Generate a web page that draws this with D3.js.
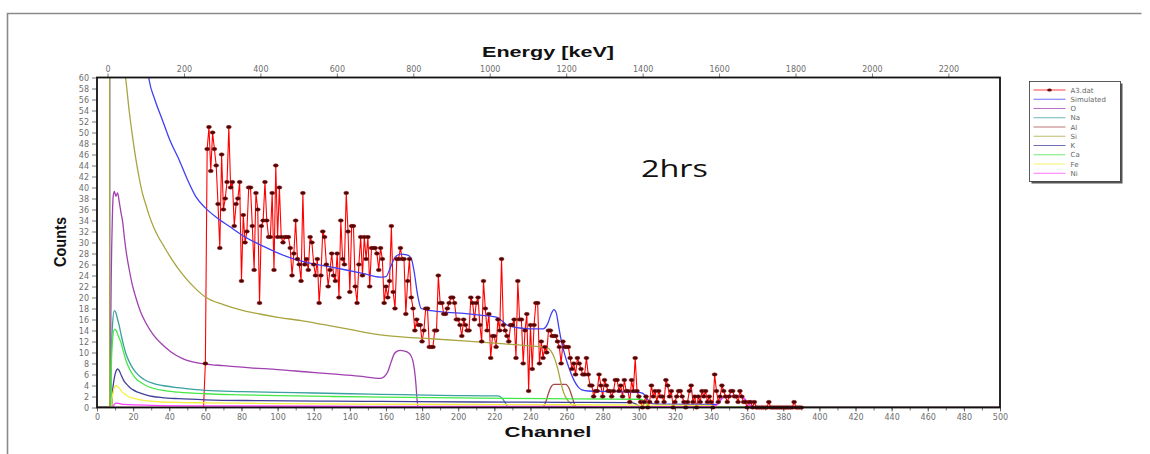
<!DOCTYPE html>
<html>
<head>
<meta charset="utf-8">
<script src="https://cdn.jsdelivr.net/npm/d3@7/dist/d3.min.js"></script>
<style>
  body { margin: 0; background: #fff; }
  svg { display: block; }
</style>
</head>
<body>
<svg id="chart" width="1150" height="454"></svg>
<script>
// ---- measured spectrum A3.dat: counts per channel, first entry is channel 59 ----
const a3StartChannel = 59;
const a3Counts = [
  0,
  8, 47, 51, 43, 50, 47, 44, 37, 29, 46,   // 60-69
  36, 38, 41, 51, 40, 41, 33, 37, 38, 41,  // 70-79
  23, 35, 30, 32, 40, 40, 33, 25, 39, 36,  // 80-89
  19, 33, 34, 41, 34, 31, 31, 39, 25, 44,  // 90-99
  31, 40, 31, 30, 31, 31, 31, 29, 24, 28,  // 100-109
  34, 27, 26, 23, 39, 26, 27, 25, 31, 30,  // 110-119
  26, 24, 27, 19, 24, 32, 31, 26, 22, 25,  // 120-129
  28, 24, 23, 28, 20, 34, 27, 26, 39, 32,  // 130-139
  21, 33, 33, 22, 19, 26, 31, 24, 31, 27,  // 140-149
  31, 22, 29, 29, 29, 28, 25, 29, 27, 19,  // 150-159
  22, 20, 23, 33, 21, 18, 27, 27, 29, 27,  // 160-169
  27, 17, 23, 27, 20, 18, 14, 16, 15, 15,  // 170-179
  12, 14, 18, 18, 11, 11, 11, 14, 14, 24,  // 180-189
  19, 19, 17, 17, 18, 19, 20, 20, 19, 16,  // 190-199
  16, 15, 13, 16, 15, 14, 14, 20, 19, 16,  // 200-209
  19, 20, 15, 12, 23, 18, 14, 17, 9, 13,   // 210-219
  13, 11, 16, 14, 27, 15, 14, 13, 12, 15,  // 220-229
  15, 16, 9, 23, 16, 16, 8, 14, 17, 3,     // 230-239
  15, 7, 15, 19, 19, 8, 12, 9, 11, 10,     // 240-249
  14, 14, 13, 13, 13, 12, 11, 8, 12, 11,   // 250-259
  11, 11, 9, 7, 8, 6, 9, 8, 7, 6,          // 260-269
  6, 9, 6, 4, 4, 2, 3, 3, 6, 4,            // 270-279
  2, 5, 4, 3, 3, 2, 3, 5, 5, 3,            // 280-289
  4, 2, 5, 3, 3, 1, 5, 3, 9, 3,            // 290-299
  2, 1, 0, 1, 2, 0, 1, 4, 2, 3,            // 300-309
  1, 3, 2, 2, 1, 5, 4, 2, 3, 0,            // 310-319
  1, 2, 3, 3, 2, 1, 0, 1, 3, 4,            // 320-329
  1, 2, 0, 2, 1, 3, 2, 3, 1, 2,            // 330-339
  1, 0, 6, 3, 1, 2, 4, 3, 2, 1,            // 340-349
  2, 3, 3, 2, 2, 1, 3, 2, 1, 1,            // 350-359
  0, 1, 1, 0, 1, 0, 0, 0, 0, 0,            // 360-369
  0, 0, 1, 0, 0, 0, 0, 0, 0, 0,            // 370-379
  0, 0, 0, 0, 0, 0, 1, 0, 0, 0,            // 380-389
  0
];

// ---- simulated total and element contributions: [channel, counts] ----
const simulated = [
  [0, 0], [7.0, 0], [7.01, 66], [28.0, 61.5], [28.9, 59.5], [32, 56], [36.3, 52.2], [40.5, 48.5],
  [45.5, 45.0], [50, 41.5], [54.8, 38.3], [60, 36.3], [66, 34.6], [73, 33.0], [82, 31.0],
  [91.6, 29.4], [100, 28.1], [110, 26.9], [120, 26.1], [128.5, 25.6], [138, 25.0], [147, 24.4],
  [157, 23.7], [160, 23.8], [162.5, 25.5], [165, 27.3], [168, 27.9], [172, 27.7], [174, 27.1],
  [175.7, 24.5], [177.5, 20.5], [179.5, 18.0], [185, 17.6], [194, 17.3], [203, 17.1], [212, 16.8],
  [221.6, 16.4], [224, 15.8], [227, 15.0], [233, 14.5], [240, 14.3], [247, 14.3], [249.5, 15.2],
  [251.5, 17.0], [253, 17.8], [254.3, 17.2], [255.5, 15.0], [257, 12.3], [259, 9.6], [260.5, 8.0],
  [262.5, 6.2], [264.5, 4.7], [266.5, 3.7], [268.5, 3.2], [272, 3.0], [284, 2.9], [295, 2.8],
  [301, 2.7], [303.5, 2.2], [305.5, 1.2], [307.5, 0.7], [312, 0.6], [343, 0.55], [344.5, 0.9],
  [346, 1.7], [348.5, 2.0], [352.5, 2.1], [356, 2.1], [358.5, 1.6], [360.5, 0.8], [362, 0.3],
  [366, 0.1], [500, 0]
];
const oxygen = [
  [0, 0], [7.6, 0], [7.61, 14], [8.4, 33], [9.0, 38.5], [9.6, 39.3], [10.5, 38.4], [11.4, 39.0],
  [12.4, 37.2], [13.3, 35.4], [14.2, 33.8], [15.2, 30.8], [16.4, 27.8], [17.9, 25.0], [19.5, 22.4],
  [21.5, 20.0], [24, 17.5], [27, 15.4], [31, 13.3], [36.3, 11.4], [41, 10.1], [47.4, 8.9],
  [53, 8.3], [60, 7.9], [70, 7.6], [85, 7.2], [100, 6.9], [115, 6.5], [130, 6.1], [145, 5.7],
  [157, 5.3], [159, 5.6], [161, 6.5], [162.8, 8.2], [164.5, 9.7], [166, 10.2], [168, 10.4],
  [171.7, 10.1], [173.5, 9.6], [174.8, 8.6], [175.8, 6.8], [176.6, 4.2], [177.2, 1.5], [177.8, 0],
  [500, 0]
];
const sodium = [
  [0, 0], [7.6, 0], [7.61, 5], [8.5, 14.5], [9.6, 17.6], [10.5, 17.2], [11.4, 16.0], [12.3, 14.9],
  [13.5, 13.0], [14.8, 11.2], [16.2, 9.6], [17.9, 8.3], [19.5, 7.3], [21.5, 6.4], [24, 5.6],
  [27, 4.9], [31, 4.4], [36.3, 4.0], [45, 3.6], [60, 3.1], [80, 2.9], [110, 2.7], [140, 2.5],
  [157, 2.4], [190, 2.2], [221.6, 2.1], [223.5, 1.9], [225, 1.4], [226.5, 0.6], [227.8, 0],
  [500, 0]
];
const aluminium = [
  [0, 0], [246.5, 0], [248.5, 1.0], [250, 2.6], [251.5, 3.8], [253, 4.2], [259.5, 4.2],
  [261.5, 3.4], [263.2, 1.8], [264.5, 0.5], [265.5, 0], [500, 0]
];
const silicon = [
  [0, 0], [7.0, 0], [7.01, 66], [15.0, 62], [16, 59.5], [17.8, 54.0], [19.7, 49.2], [21.5, 45.2],
  [23.5, 41.5], [25.2, 38.9], [27, 36.9], [29, 34.8], [31.5, 32.7], [34, 31.0], [36.5, 29.6],
  [41.5, 26.9], [47.4, 24.2], [54, 21.8], [60, 20.1], [70, 18.7], [80, 17.7], [90, 17.0],
  [100, 16.4], [113, 15.8], [125, 15.1], [140, 14.2], [157, 13.2], [170, 12.8], [185, 12.5],
  [203, 12.1], [220, 11.7], [240, 11.2], [249, 10.9], [251.5, 10.2], [253.5, 8.8], [255.3, 6.8],
  [256.8, 4.6], [258.3, 2.8], [260, 1.6], [262, 0.8], [264, 0.3], [266, 0], [500, 0]
];
const potassium = [
  [0, 0], [8.4, 0], [8.41, 2], [9.5, 5.2], [10.5, 6.6], [11.4, 7.0], [12.3, 6.7], [13.5, 5.8],
  [15, 4.8], [16.5, 4.2], [18, 3.7], [20, 3.2], [22.5, 2.8], [27, 2.3], [31, 2.0], [36, 1.8],
  [45, 1.6], [60, 1.4], [90, 1.25], [130, 1.15], [157, 1.1], [210, 1.0], [260, 0.95], [296, 0.9],
  [298.5, 0.6], [300.5, 0.2], [302, 0], [500, 0]
];
const calcium = [
  [0, 0], [7.8, 0], [7.81, 6], [8.6, 12.2], [9.6, 14.2], [10.6, 14.0], [11.8, 13.0], [13.3, 11.8],
  [14.6, 10.2], [16.2, 8.4], [18, 7.0], [19.8, 6.0], [22, 5.1], [24.5, 4.5], [27, 4.0], [31, 3.5],
  [36.3, 3.1], [45, 2.8], [60, 2.5], [80, 2.3], [100, 2.15], [130, 2.0], [157, 1.9], [200, 1.75],
  [249, 1.6], [280, 1.55], [301, 1.5], [303, 1.2], [304.5, 0.6], [306, 0], [500, 0]
];
const iron = [
  [0, 0], [8.3, 0], [8.31, 1.5], [9.3, 3.3], [10.5, 4.0], [11.5, 3.8], [12.8, 3.3], [14.3, 2.7],
  [16, 2.3], [18, 1.9], [21, 1.6], [24, 1.4], [30, 1.15], [36, 1.0], [48, 0.9], [60, 0.85],
  [100, 0.72], [150, 0.62], [200, 0.55], [260, 0.5], [300, 0.45], [340, 0.4], [342.5, 0.2],
  [344.5, 0], [500, 0]
];
const nickel = [
  [0, 0], [9.0, 0], [9.5, 0.6], [11, 0.8], [15, 0.55], [30, 0.4], [60, 0.3], [150, 0.22],
  [250, 0.18], [340, 0.15], [342.5, 0.3], [344.5, 0.9], [346.2, 1.7], [348.5, 2.0], [352, 2.1],
  [356, 2.15], [358.3, 1.7], [360, 1.0], [361.5, 0.4], [363, 0], [500, 0]
];

// ---- axes ----
const channelTicks = d3.range(0, 501, 20);
const channelMinorTicks = d3.range(0, 501, 10);
const countTicks = d3.range(0, 61, 2);
const energyTicks = [0, 200, 400, 600, 800, 1000, 1200, 1400, 1600, 1800, 2000, 2200];
// energy calibration (keV at the first and last channel shown)
const energyAtFirstChannel = -27.5;
const energyAtLastChannel = 2335;

// ---- series styling / legend ----
const seriesNames = ["A3.dat", "Simulated", "O", "Na", "Al", "Si", "K", "Ca", "Fe", "Ni"];
const seriesColors = ["#ff0000", "#3f3ff5", "#a040b0", "#3aa0a0", "#a84848", "#a8a440",
                      "#40409a", "#44e844", "#f4f040", "#ff44ff"];
const curveSeries = [simulated, oxygen, sodium, aluminium, silicon, potassium, calcium, iron, nickel];

const svg = d3.select("#chart");
const W = 1150, H = 454;
const plot = { left: 97, right: 1000, top: 77.5, bottom: 407.5 };

const x = d3.scaleLinear().domain([0, 500]).range([plot.left, plot.right]);
const y = d3.scaleLinear().domain([0, 60]).range([plot.bottom, plot.top]);
const xEnergy = d3.scaleLinear().domain([energyAtFirstChannel, energyAtLastChannel])
  .range([plot.left, plot.right]);

// outer panel border (left and top edges)
svg.append("path")
  .attr("d", `M7.5,${H} L7.5,13.5 L1141.5,13.5`)
  .attr("fill", "none").attr("stroke", "#8a8a8a").attr("stroke-width", 1.6);

svg.append("defs").append("clipPath").attr("id", "plot-clip")
  .append("rect")
  .attr("x", plot.left).attr("y", plot.top)
  .attr("width", plot.right - plot.left).attr("height", plot.bottom - plot.top);

const tickFont = "'DejaVu Sans', sans-serif";
function styleAxis(g) {
  g.select(".domain").remove();
  g.selectAll(".tick line").attr("stroke", "#555").attr("stroke-width", 0.8);
  g.selectAll(".tick text").attr("fill", "#6e6e6e")
    .style("font-family", tickFont).style("font-size", "8px");
}

// left axis: counts
svg.append("g").attr("transform", `translate(${plot.left},0)`)
  .call(d3.axisLeft(y).tickValues(countTicks).tickSize(5).tickPadding(3)
        .tickFormat(d3.format("d")))
  .call(styleAxis);

// bottom axis: channel (minor ticks, then labelled ticks)
svg.append("g").attr("transform", `translate(0,${plot.bottom})`)
  .call(d3.axisBottom(x).tickValues(channelMinorTicks).tickSize(3).tickFormat(""))
  .call(styleAxis);
svg.append("g").attr("transform", `translate(0,${plot.bottom})`)
  .call(d3.axisBottom(x).tickValues(channelTicks).tickSize(4).tickPadding(3)
        .tickFormat(d3.format("d")))
  .call(styleAxis);

// top axis: energy
svg.append("g").attr("transform", `translate(0,${plot.top})`)
  .call(d3.axisTop(xEnergy).tickValues(energyTicks).tickSize(4).tickPadding(2)
        .tickFormat(d3.format("d")))
  .call(styleAxis);

// axis titles
const titleFont = "'Liberation Sans', Arial, sans-serif";
svg.append("text")
  .attr("x", 548).attr("y", 57).attr("text-anchor", "middle")
  .attr("textLength", 132).attr("lengthAdjust", "spacingAndGlyphs")
  .style("font-family", titleFont).style("font-weight", "bold").style("font-size", "15.5px")
  .attr("fill", "#111").text("Energy [keV]");
svg.append("text")
  .attr("x", 548).attr("y", 437).attr("text-anchor", "middle")
  .attr("textLength", 87).attr("lengthAdjust", "spacingAndGlyphs")
  .style("font-family", titleFont).style("font-weight", "bold").style("font-size", "15px")
  .attr("fill", "#111").text("Channel");
svg.append("g").attr("transform", "translate(66,242) scale(1.3,1) rotate(-90)")
  .append("text").attr("x", 0).attr("y", 0).attr("text-anchor", "middle")
  .attr("textLength", 50).attr("lengthAdjust", "spacingAndGlyphs")
  .style("font-family", titleFont).style("font-weight", "bold").style("font-size", "13px")
  .attr("fill", "#111").text("Counts");

// plot contents
const layer = svg.append("g").attr("clip-path", "url(#plot-clip)");

const a3Points = a3Counts.map((c, i) => [a3StartChannel + i, c]);
const lineGen = d3.line().x(d => x(d[0])).y(d => y(d[1]));
const smoothLine = d3.line().x(d => x(d[0])).y(d => y(d[1])).curve(d3.curveMonotoneX);

layer.append("path").datum(a3Points)
  .attr("d", lineGen).attr("fill", "none")
  .attr("stroke", seriesColors[0]).attr("stroke-width", 1.1);

curveSeries.forEach((pts, i) => {
  layer.append("path").datum(pts)
    .attr("d", smoothLine).attr("fill", "none")
    .attr("stroke", seriesColors[i + 1]).attr("stroke-width", 1.3)
    .attr("stroke-linejoin", "round");
});

// data markers
svg.append("g").selectAll("ellipse").data(a3Points.filter(d => d[0] >= 60)).join("ellipse")
  .attr("cx", d => x(d[0])).attr("cy", d => y(d[1]))
  .attr("rx", 2.5).attr("ry", 1.7)
  .attr("fill", "#4a0606").attr("stroke", "#9a1010").attr("stroke-width", 0.5);

// plot frame
svg.append("rect")
  .attr("x", plot.left).attr("y", plot.top)
  .attr("width", plot.right - plot.left).attr("height", plot.bottom - plot.top)
  .attr("fill", "none").attr("stroke", "#111").attr("stroke-width", 1.8);

// annotation
svg.append("text")
  .attr("x", 641).attr("y", 177)
  .attr("textLength", 67).attr("lengthAdjust", "spacingAndGlyphs")
  .style("font-family", "'Open Sans', 'Noto Sans', sans-serif").style("font-size", "24px")
  .attr("fill", "#111").text("2hrs");

// legend
const lg = svg.append("g").attr("transform", "translate(1029.5,81.5)");
lg.append("rect").attr("x", 2).attr("y", 2).attr("width", 91).attr("height", 100).attr("fill", "#555");
lg.append("rect").attr("x", 0).attr("y", 0).attr("width", 91).attr("height", 100)
  .attr("fill", "#fff").attr("stroke", "#333").attr("stroke-width", 0.8);
const rowH = 9.25;
const rows = lg.selectAll("g.row").data(seriesNames).join("g")
  .attr("class", "row").attr("transform", (d, i) => `translate(0,${8.5 + i * rowH})`);
rows.append("line").attr("x1", 4).attr("x2", 36).attr("y1", 0).attr("y2", 0)
  .attr("stroke", (d, i) => seriesColors[i]).attr("stroke-width", 1.1).attr("opacity", 0.75);
rows.filter((d, i) => i === 0).append("ellipse")
  .attr("cx", 20).attr("cy", 0).attr("rx", 2.3).attr("ry", 1.6).attr("fill", "#6a0a0a");
rows.append("text").attr("x", 41).attr("y", 2.6)
  .style("font-family", tickFont).style("font-size", "7px").attr("fill", "#666")
  .text(d => d);
</script>
</body>
</html>
